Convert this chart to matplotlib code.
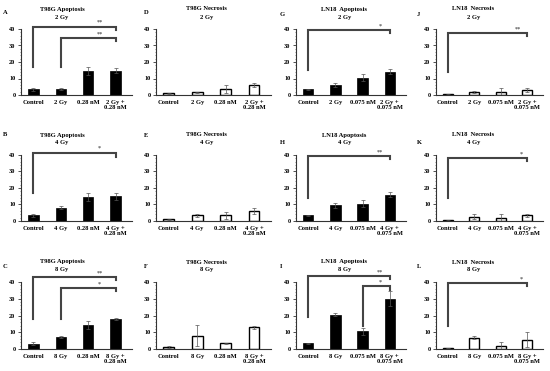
import matplotlib
matplotlib.use("Agg")
import matplotlib.pyplot as plt
import numpy as np

plt.rcParams['font.family'] = ['Liberation Serif', 'DejaVu Serif']

# ---- data ----
cats_T98G = {
    "2": ["Control", "2 Gy", "0.28 nM", "2 Gy +\n0.28 nM"],
    "4": ["Control", "4 Gy", "0.28 nM", "4 Gy +\n0.28 nM"],
    "8": ["Control", "8 Gy", "0.28 nM", "8 Gy +\n0.28 nM"],
}
cats_LN18 = {
    "2": ["Control", "2 Gy", "0.075 nM", "2 Gy +\n0.075 nM"],
    "4": ["Control", "4 Gy", "0.075 nM", "4 Gy +\n0.075 nM"],
    "8": ["Control", "8 Gy", "0.075 nM", "8 Gy +\n0.075 nM"],
}

A_vals = [3.5, 3.8, 14.5, 14.8]; A_err = [1.0, 0.5, 2.5, 1.5]
B_vals = [3.5, 8.0, 14.5, 15.0]; B_err = [0.8, 1.0, 2.5, 2.0]
C_vals = [3.2, 7.0, 14.5, 17.8]; C_err = [1.0, 0.5, 2.5, 0.5]
D_vals = [1.0, 1.8, 3.8, 6.0]; D_err = [0.5, 0.3, 2.5, 1.2]
E_vals = [1.0, 3.5, 3.5, 6.0]; E_err = [0.5, 0.8, 2.0, 1.8]
F_vals = [1.0, 8.0, 3.5, 13.0]; F_err = [0.5, 6.5, 0.3, 1.0]
G_vals = [3.5, 6.0, 10.5, 14.0]; G_err = [0.3, 1.0, 2.0, 1.5]
H_vals = [3.5, 9.5, 10.5, 16.0]; H_err = [0.3, 1.5, 2.0, 1.3]
I_vals = [3.5, 20.5, 10.5, 30.0]; I_err = [0.3, 1.0, 2.0, 4.5]
J_vals = [0.5, 2.0, 2.0, 3.2]; J_err = [0.2, 0.5, 2.0, 1.3]
K_vals = [0.5, 2.5, 2.0, 3.5]; K_err = [0.2, 1.5, 2.0, 1.0]
L_vals = [0.5, 6.8, 2.0, 5.5]; L_err = [0.2, 0.8, 2.0, 4.5]

# brackets: (x_left, x_right, y_line, y_left_end, y_right_end, label, label_x)
A_br = [(0, 3, 41.5, 17, 39.4, "**", 2.42), (1, 3, 34.7, 17, 33, "**", 2.42)]
B_br = [(0, 3, 41.4, 17, 39, "*", 2.42)]
C_br = [(0, 3, 42.8, 18, 41, "**", 2.42), (1, 3, 36.4, 18, 34.5, "*", 2.42)]
G_br = [(0, 3, 39.4, 15, 37.5, "*", 2.67)]
H_br = [(0, 3, 39.2, 14, 37.3, "**", 2.65)]
I_br = [(0, 3, 43.6, 19, 41.8, "**", 2.65), (2, 3, 37.6, 14, 35.5, "*", 2.64)]
J_br = [(0, 3, 37.6, 14, 35.8, "**", 2.66)]
K_br = [(0, 3, 38.0, 14, 36.2, "*", 2.77)]
L_br = [(0, 3, 39.2, 14, 37.4, "*", 2.77)]

panels = [
    # letter, title1, dose, cats, vals, err, filled, brackets, row, col
    ("A", "T98G Apoptosis", "2 Gy", cats_T98G["2"], A_vals, A_err, True, A_br, 0, 0),
    ("B", "T98G Apoptosis", "4 Gy", cats_T98G["4"], B_vals, B_err, True, B_br, 1, 0),
    ("C", "T98G Apoptosis", "8 Gy", cats_T98G["8"], C_vals, C_err, True, C_br, 2, 0),
    ("D", "T98G Necrosis", "2 Gy", cats_T98G["2"], D_vals, D_err, False, [], 0, 1),
    ("E", "T98G Necrosis", "4 Gy", cats_T98G["4"], E_vals, E_err, False, [], 1, 1),
    ("F", "T98G Necrosis", "8 Gy", cats_T98G["8"], F_vals, F_err, False, [], 2, 1),
    ("G", "LN18  Apoptosis", "2 Gy", cats_LN18["2"], G_vals, G_err, True, G_br, 0, 2),
    ("H", "LN18 Apoptosis", "4 Gy", cats_LN18["4"], H_vals, H_err, True, H_br, 1, 2),
    ("I", "LN18  Apoptosis", "8 Gy", cats_LN18["8"], I_vals, I_err, True, I_br, 2, 2),
    ("J", "LN18  Necrosis", "2 Gy", cats_LN18["2"], J_vals, J_err, False, J_br, 0, 3),
    ("K", "LN18  Necrosis", "4 Gy", cats_LN18["4"], K_vals, K_err, False, K_br, 1, 3),
    ("L", "LN18  Necrosis", "8 Gy", cats_LN18["8"], L_vals, L_err, False, L_br, 2, 3),
]

W, H = 550, 371
fig = plt.figure(figsize=(5.5, 3.71), dpi=100)

col_left = [21, 156, 296, 436]
col_width = [111, 115, 110, 107]
row_top = [29, 155, 282]
row_bottom = [95, 221, 349]
title_xfrac = [0.37, 0.44, 0.44, 0.35]
letter_x = [3, 144, 280, 417]
letter_y = [[13, 135, 267], [13, 136, 267], [15, 142, 267], [14, 142, 267]]

axcol = "#333333"
for (letter, t1, dose, cats, vals, err, filled, brs, r, c) in panels:
    l = col_left[c] / W
    b = 1 - row_bottom[r] / H
    w = col_width[c] / W
    h = (row_bottom[r] - row_top[r]) / H
    ax = fig.add_axes([l, b, w, h])
    x = np.arange(len(cats))
    ax.bar(x, vals, width=0.38,
           color="black" if filled else "white",
           edgecolor="black", linewidth=1.0 if not filled else 0.5,
           yerr=err, error_kw=dict(ecolor="#555555", elinewidth=0.5, capsize=1.5, capthick=0.5),
           zorder=2)
    ax.set_xlim(-0.45, 3.6)
    ax.set_ylim(0, 40)
    ax.set_yticks([0, 10, 20, 30, 40])
    ax.set_yticks(np.arange(0, 41, 2), minor=True)
    ax.set_xticks(x)
    ax.set_xticklabels(cats, fontsize=4.7, fontweight="bold", linespacing=1.05)
    ax.tick_params(axis="x", length=0, pad=3.5)
    ax.tick_params(axis="y", which="major", length=2, width=0.6, labelsize=4.5, pad=2, colors=axcol)
    ax.tick_params(axis="y", which="minor", length=1, width=0.4, colors=axcol)
    for lab in ax.get_yticklabels():
        lab.set_fontweight("bold")
        lab.set_color("black")
    for s in ["top", "right"]:
        ax.spines[s].set_visible(False)
    for s in ["left", "bottom"]:
        ax.spines[s].set_color(axcol)
        ax.spines[s].set_linewidth(0.8)
    for (x0, x1, yl, y0, y1, lab, lx) in brs:
        ax.plot([x0, x0, x1, x1], [y0, yl, yl, y1], color="#444444", lw=1.5,
                clip_on=False, solid_joinstyle="miter", zorder=3)
        ax.text(lx, yl + 1.0, lab,
                ha="center", va="bottom", fontsize=4.5, fontweight="bold",
                color="#555555", clip_on=False)
    # titles
    ty1 = (row_top[r] - 20)
    fig.text(l + title_xfrac[c] * w, 1 - ty1 / H, t1, ha="center", va="center",
             fontsize=4.7, fontweight="bold")
    fig.text(l + title_xfrac[c] * w, 1 - (ty1 + 8) / H, dose, ha="center", va="center",
             fontsize=4.7, fontweight="bold")
    fig.text(letter_x[c] / W, 1 - letter_y[c][r] / H, letter, ha="left", va="center",
             fontsize=4.7, fontweight="bold")

fig.savefig("out.png", dpi=100)
